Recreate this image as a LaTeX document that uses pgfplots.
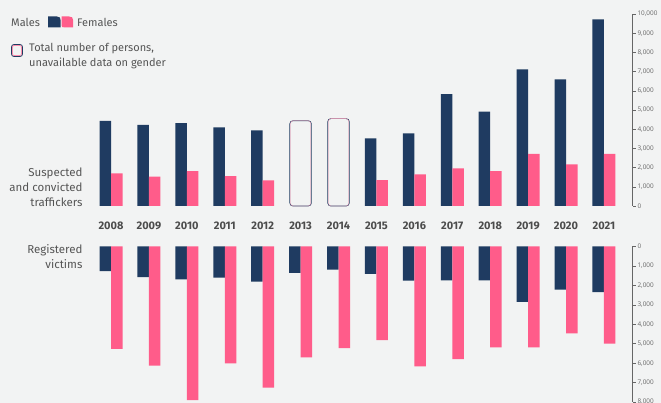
\documentclass[border=0pt]{standalone}
\usepackage{pgfplots}
\usepackage{pgfplotstable}
\pgfplotsset{compat=1.18}
\usepackage{fontspec}
\setmainfont{Fira Sans}
\newfontfamily\tickfont{Open Sans}
\definecolor{navy}{HTML}{1F3B61}
\definecolor{pinkb}{HTML}{FF5C8A}
\definecolor{bg}{HTML}{F2F3F3}
\definecolor{txt}{HTML}{555555}
\definecolor{axc}{HTML}{666666}

\pgfplotstableread{
i male female
0 4430 1700
1 4220 1530
2 4310 1820
3 4100 1550
4 3940 1340
7 3520 1350
8 3780 1650
9 5820 1960
10 4910 1810
11 7120 2720
12 6600 2170
13 9720 2710
}\topdata
\pgfplotstableread{
i total
5 4440
6 4550
}\totaldata
\pgfplotstableread{
i male female
0 1270 5270
1 1580 6120
2 1690 7900
3 1600 6010
4 1800 7250
5 1360 5700
6 1190 5220
7 1410 4810
8 1750 6170
9 1740 5790
10 1740 5190
11 2850 5190
12 2220 4470
13 2340 5000
}\botdata

\pgfplotsset{
  common/.style={
    scale only axis, width=543pt,
    xmin=-0.567, xmax=13.753,
    axis x line=none, axis y line=right,
    axis line style={color=axc, line width=0.6pt},
    y axis line style={-},
    tick style={color=axc, line width=0.5pt},
    tick align=outside, major tick length=3pt,
    ytick distance=1000, scaled y ticks=false,
    yticklabel style={font=\tickfont\fontsize{6.4}{7}\selectfont, color=axc, xshift=-1.5pt},
    /pgf/number format/.cd, 1000 sep={,}, assume math mode=true,
  },
}

\begin{document}
\begin{tikzpicture}[x=1pt,y=1pt]
\useasboundingbox (0,0) rectangle (661,403);
\fill[bg] (0,0) rectangle (661,403);

% top axis
\begin{axis}[common, at={(89.5pt,197pt)}, anchor=south west, height=192pt,
  ymin=0, ymax=10000, clip=false]
\addplot[ybar, bar width=11.5pt, bar shift=-5.75pt, fill=navy, draw=none] table[x=i,y=male]{\topdata};
\addplot[ybar, bar width=11.5pt, bar shift=5.75pt, fill=pinkb, draw=none] table[x=i,y=female]{\topdata};
\addplot[ybar, bar width=21.5pt, bar shift=0pt, fill=bg, draw=navy, line width=0.7pt, rounded corners=3pt] table[x=i,y=total]{\totaldata};
\addplot[ybar, bar width=20pt, bar shift=0pt, fill=none, draw=pinkb!60, line width=0.3pt, rounded corners=2.5pt] table[x=i,y=total]{\totaldata};
\end{axis}

% bottom axis
\begin{axis}[common, at={(89.5pt,156.5pt)}, anchor=north west, height=155.6pt,
  ymin=0, ymax=8000, y dir=reverse, clip=false]
\addplot[ybar, bar width=11.5pt, bar shift=-5.75pt, fill=navy, draw=none] table[x=i,y=male]{\botdata};
\addplot[ybar, bar width=11.5pt, bar shift=5.75pt, fill=pinkb, draw=none] table[x=i,y=female]{\botdata};
\end{axis}

% year labels
\foreach \i/\yr in {0/2008,1/2009,2/2010,3/2011,4/2012,5/2013,6/2014,7/2015,8/2016,9/2017,10/2018,11/2019,12/2020,13/2021}
  \node[font=\fontsize{11}{12}\selectfont\bfseries, text=txt!90!black] at ({111+37.92*\i},177) {\yr};

% left labels
\node[anchor=east, align=right, font=\fontsize{11.5}{15}\selectfont, text=txt] at (86,216) {Suspected\\and convicted\\traffickers};
\node[anchor=east, align=right, font=\fontsize{11.5}{15.5}\selectfont, text=txt] at (86,146.5) {Registered\\victims};

% legend
\node[anchor=west, font=\fontsize{11}{12}\selectfont, text=txt, inner sep=0pt] at (11,381) {Males};
\fill[navy] (48,375.5) -- (48,386.5) -- (57,386.5) .. controls (60,386.5) and (60.5,385) .. (60.5,383) -- (60.5,375.5) -- cycle;
\fill[pinkb] (61.5,378) .. controls (61.5,376) and (62,375.5) .. (65,375.5) -- (73,375.5) -- (73,383) .. controls (73,385.5) and (72,386.5) .. (69,386.5) -- (61.5,386.5) -- cycle;
\node[anchor=west, font=\fontsize{11}{12}\selectfont, text=txt, inner sep=0pt] at (77,381) {Females};

\draw[navy, line width=0.8pt, rounded corners=2.5pt] (11.5,346.5) rectangle (22.5,358.5);
\draw[pinkb, line width=0.5pt, rounded corners=2pt] (12.4,347.4) rectangle (21.6,357.6);
\node[anchor=north west, align=left, font=\fontsize{11}{15.5}\selectfont, text=txt, inner sep=0pt] at (29,360) {Total number of persons,\\unavailable data on gender};
\end{tikzpicture}
\end{document}
